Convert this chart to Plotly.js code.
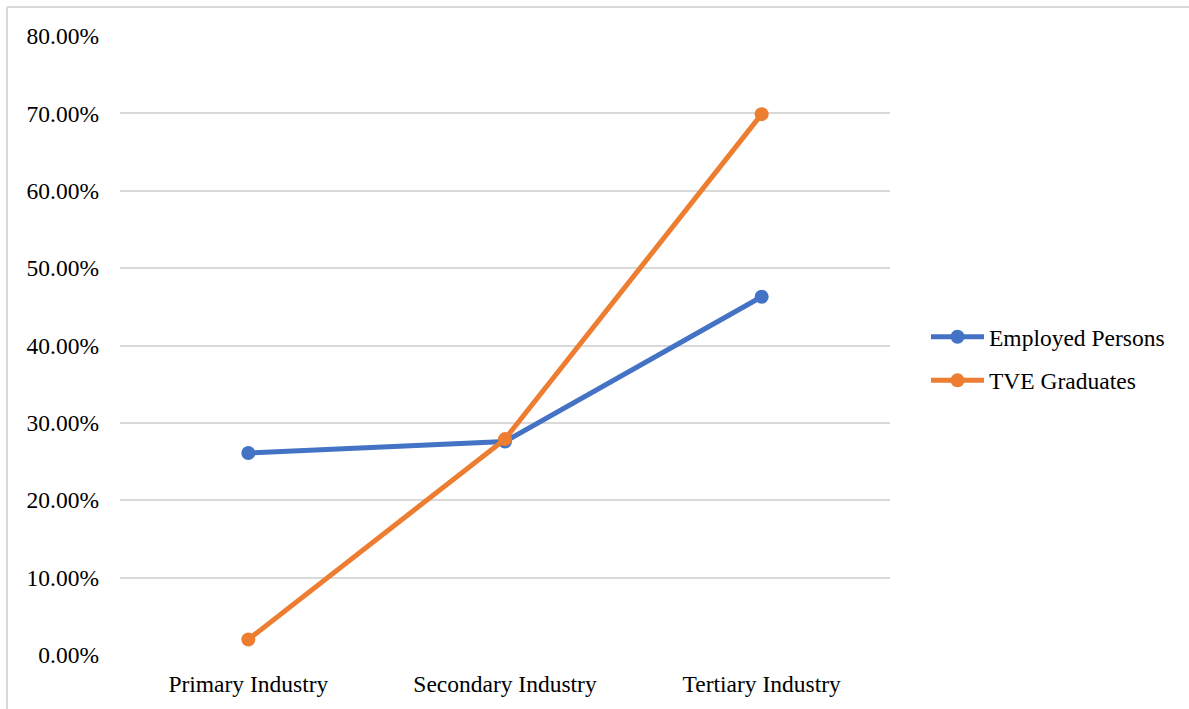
<!DOCTYPE html>
<html>
<head>
<meta charset="utf-8">
<script src="https://cdn.plot.ly/plotly-3.0.1.min.js"></script>
<style>
  html, body { margin: 0; padding: 0; background: #ffffff; }
  #chart { width: 1189px; height: 709px; }
</style>
</head>
<body>
<div id="chart"></div>
<script>
// Share of each industry (percent)
const industries = ["Primary Industry", "Secondary Industry", "Tertiary Industry"];
const employedPersons = [26.1, 27.6, 46.3];
const tveGraduates = [2.0, 27.9, 69.9];
const yTickValues = [0, 10, 20, 30, 40, 50, 60, 70, 80];
const yTickLabels = ["0.00%", "10.00%", "20.00%", "30.00%", "40.00%", "50.00%", "60.00%", "70.00%", "80.00%"];

const W = 1189, H = 709;
const M = { l: 120, r: 299, t: 36, b: 54 };
const plotW = W - M.l - M.r, plotH = H - M.t - M.b;
// convert page pixels into paper coordinates for the frame lines
const px = x => (x - M.l) / plotW;
const py = y => (H - M.b - y) / plotH;

const font = { family: "Liberation Serif, 'Times New Roman', serif", size: 23.5, color: "#000000" };

const traces = [
  {
    x: industries, y: employedPersons, name: "Employed Persons",
    type: "scatter", mode: "lines+markers", legendgroup: "a",
    line: { color: "#4472C4", width: 5 },
    marker: { color: "#4472C4", size: 14 }
  },
  {
    x: industries, y: tveGraduates, name: "TVE Graduates",
    type: "scatter", mode: "lines+markers", legendgroup: "b",
    line: { color: "#ED7D31", width: 5 },
    marker: { color: "#ED7D31", size: 14 }
  }
];

const layout = {
  width: W, height: H,
  margin: M,
  paper_bgcolor: "#ffffff", plot_bgcolor: "#ffffff",
  font: font,
  showlegend: true,
  legend: {
    x: px(926), xanchor: "left",
    y: py(359), yanchor: "middle",
    font: font,
    traceorder: "grouped",
    tracegroupgap: 10,
    itemwidth: 53,
    bgcolor: "rgba(0,0,0,0)"
  },
  xaxis: {
    type: "category",
    range: [-0.5, 2.5],
    showgrid: false, zeroline: false,
    showline: false, ticks: "",
    ticklabelstandoff: 12,
    tickfont: font
  },
  yaxis: {
    range: [0, 80],
    tickvals: yTickValues, ticktext: yTickLabels,
    showgrid: true, gridcolor: "#d9d9d9", gridwidth: 2,
    zeroline: false, showline: false, ticks: "",
    ticklabelstandoff: 20,
    tickfont: font
  },
  shapes: [
    { type: "line", xref: "paper", yref: "paper", x0: px(7), x1: px(1189), y0: py(7), y1: py(7),
      line: { color: "#d9d9d9", width: 2 } },
    { type: "line", xref: "paper", yref: "paper", x0: px(7), x1: px(7), y0: py(7), y1: py(709),
      line: { color: "#d9d9d9", width: 2 } }
  ]
};

Plotly.newPlot("chart", traces, layout, { displayModeBar: false, staticPlot: true });
</script>
</body>
</html>
